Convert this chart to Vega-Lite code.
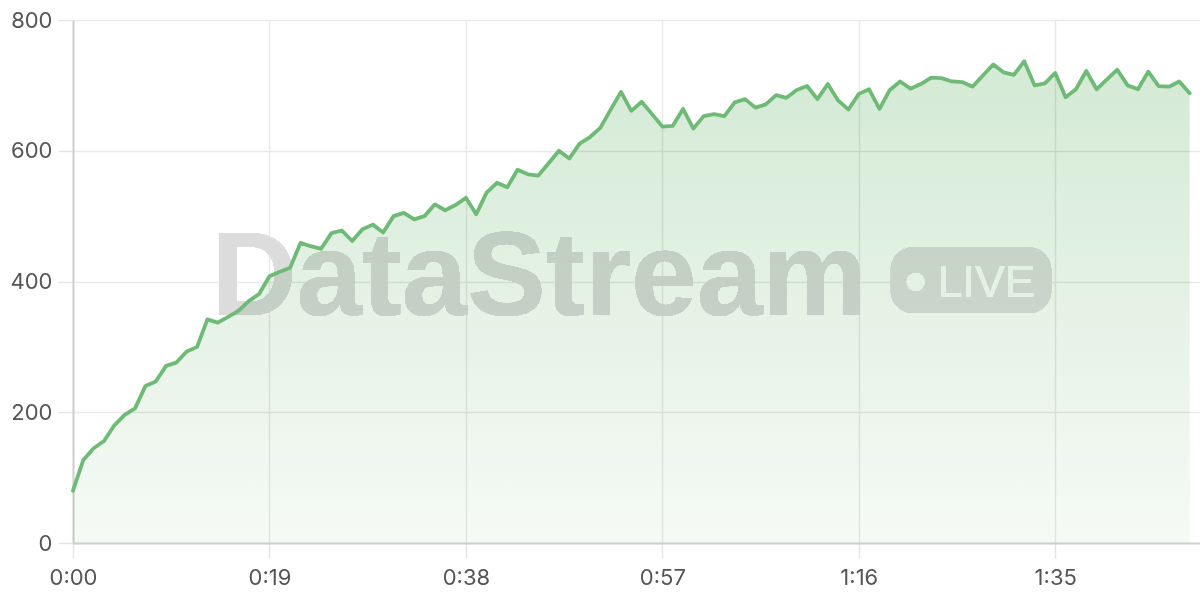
{
  "$schema": "https://vega.github.io/schema/vega-lite/v6.json",
  "width": 1127,
  "height": 523,
  "autosize": "none",
  "padding": {"left": 73, "top": 20, "right": 0, "bottom": 57},
  "background": "white",
  "config": {
    "view": {"stroke": null},
    "axis": {
      "grid": true,
      "labelFont": "Inter",
      "labelFontSize": 22,
      "labelColor": "#555555",
      "labelFlush": false,
      "gridColor": "#e9e9e9",
      "gridWidth": 1.5,
      "tickColor": "#e4e4e4",
      "tickWidth": 1.5,
      "tickSize": 15,
      "domainColor": "#cfcfcf",
      "domainWidth": 2,
      "title": null
    }
  },
  "data": {"values": [
    {"t": 0, "v": 80}, {"t": 1, "v": 127}, {"t": 2, "v": 145}, {"t": 3, "v": 156}, {"t": 4, "v": 180},
    {"t": 5, "v": 196}, {"t": 6, "v": 206}, {"t": 7, "v": 240}, {"t": 8, "v": 247}, {"t": 9, "v": 271},
    {"t": 10, "v": 276}, {"t": 11, "v": 293}, {"t": 12, "v": 300}, {"t": 13, "v": 342}, {"t": 14, "v": 337},
    {"t": 15, "v": 346}, {"t": 16, "v": 355}, {"t": 17, "v": 370}, {"t": 18, "v": 381}, {"t": 19, "v": 408},
    {"t": 20, "v": 415}, {"t": 21, "v": 421}, {"t": 22, "v": 459}, {"t": 23, "v": 454}, {"t": 24, "v": 450},
    {"t": 25, "v": 474}, {"t": 26, "v": 478}, {"t": 27, "v": 462}, {"t": 28, "v": 480}, {"t": 29, "v": 487},
    {"t": 30, "v": 475}, {"t": 31, "v": 500}, {"t": 32, "v": 505}, {"t": 33, "v": 495}, {"t": 34, "v": 500},
    {"t": 35, "v": 518}, {"t": 36, "v": 509}, {"t": 37, "v": 517}, {"t": 38, "v": 528}, {"t": 39, "v": 503},
    {"t": 40, "v": 536}, {"t": 41, "v": 551}, {"t": 42, "v": 544}, {"t": 43, "v": 571}, {"t": 44, "v": 564},
    {"t": 45, "v": 562}, {"t": 46, "v": 581}, {"t": 47, "v": 600}, {"t": 48, "v": 588}, {"t": 49, "v": 611},
    {"t": 50, "v": 621}, {"t": 51, "v": 635}, {"t": 52, "v": 663}, {"t": 53, "v": 690}, {"t": 54, "v": 661},
    {"t": 55, "v": 675}, {"t": 56, "v": 656}, {"t": 57, "v": 637}, {"t": 58, "v": 638}, {"t": 59, "v": 664},
    {"t": 60, "v": 634}, {"t": 61, "v": 653}, {"t": 62, "v": 656}, {"t": 63, "v": 653}, {"t": 64, "v": 674},
    {"t": 65, "v": 679}, {"t": 66, "v": 666}, {"t": 67, "v": 671}, {"t": 68, "v": 685}, {"t": 69, "v": 681},
    {"t": 70, "v": 693}, {"t": 71, "v": 699}, {"t": 72, "v": 679}, {"t": 73, "v": 702}, {"t": 74, "v": 677},
    {"t": 75, "v": 663}, {"t": 76, "v": 687}, {"t": 77, "v": 694}, {"t": 78, "v": 664}, {"t": 79, "v": 693},
    {"t": 80, "v": 706}, {"t": 81, "v": 695}, {"t": 82, "v": 702}, {"t": 83, "v": 712}, {"t": 84, "v": 711},
    {"t": 85, "v": 706}, {"t": 86, "v": 705}, {"t": 87, "v": 698}, {"t": 88, "v": 715}, {"t": 89, "v": 732},
    {"t": 90, "v": 720}, {"t": 91, "v": 716}, {"t": 92, "v": 737}, {"t": 93, "v": 700}, {"t": 94, "v": 703},
    {"t": 95, "v": 719}, {"t": 96, "v": 682}, {"t": 97, "v": 694}, {"t": 98, "v": 722}, {"t": 99, "v": 694},
    {"t": 100, "v": 709}, {"t": 101, "v": 724}, {"t": 102, "v": 700}, {"t": 103, "v": 694}, {"t": 104, "v": 721},
    {"t": 105, "v": 699}, {"t": 106, "v": 698}, {"t": 107, "v": 706}, {"t": 108, "v": 688}
  ]},
  "layer": [
    {
      "mark": {"type": "text", "text": "DataStream", "font": "Liberation Sans", "fontWeight": "bold", "fontSize": 118, "align": "center", "baseline": "alphabetic", "fill": "#dcdcdc"},
      "encoding": {
        "x": {"datum": 45.1, "type": "quantitative"},
        "y": {"datum": 348.6, "type": "quantitative"}
      }
    },
    {
      "mark": {"type": "rect", "fill": "#e1e1e1", "cornerRadius": 22},
      "encoding": {
        "x": {"datum": 79.1, "type": "quantitative"},
        "x2": {"datum": 94.6},
        "y": {"datum": 452, "type": "quantitative"},
        "y2": {"datum": 352}
      }
    },
    {
      "mark": {"type": "circle", "fill": "white", "size": 320, "opacity": 1},
      "encoding": {
        "x": {"datum": 81.5, "type": "quantitative"},
        "y": {"datum": 399.5, "type": "quantitative"}
      }
    },
    {
      "mark": {"type": "text", "text": "LIVE", "font": "Liberation Sans", "fontSize": 45, "align": "left", "baseline": "alphabetic", "fill": "white"},
      "encoding": {
        "x": {"datum": 83.6, "type": "quantitative"},
        "y": {"datum": 376.6, "type": "quantitative"}
      }
    },
    {
      "mark": {
        "type": "area",
        "blend": "multiply",
        "color": {
          "gradient": "linear", "x1": 0, "y1": 0, "x2": 0, "y2": 1,
          "stops": [
            {"offset": 0, "color": "#d3ead4"},
            {"offset": 1, "color": "#f6faf6"}
          ]
        }
      },
      "encoding": {
        "x": {
          "field": "t", "type": "quantitative",
          "scale": {"domain": [0, 109], "nice": false, "zero": false},
          "axis": {
            "grid": true,
            "values": [0, 19, 38, 57, 76, 95],
            "labelPadding": 9,
            "labelExpr": "floor(datum.value / 60) + ':' + (datum.value % 60 < 10 ? '0' : '') + (datum.value % 60)"
          }
        },
        "y": {
          "field": "v", "type": "quantitative",
          "scale": {"domain": [0, 800], "nice": false},
          "axis": {"grid": true, "values": [0, 200, 400, 600, 800], "labelPadding": 6}
        }
      }
    },
    {
      "mark": {"type": "line", "color": "#70ba77", "strokeWidth": 3.8, "strokeJoin": "round", "strokeCap": "round"},
      "encoding": {
        "x": {"field": "t", "type": "quantitative"},
        "y": {"field": "v", "type": "quantitative"}
      }
    }
  ]
}
